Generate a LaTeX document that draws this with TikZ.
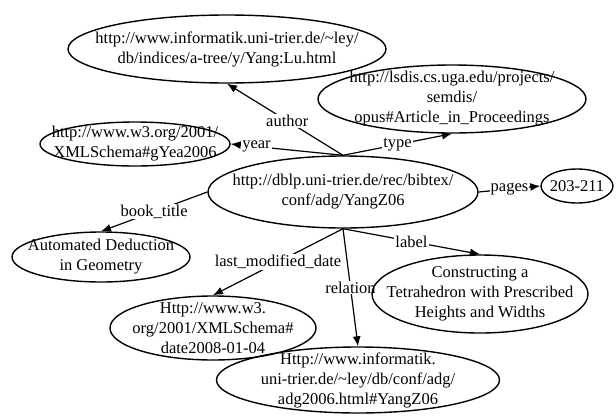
\documentclass[tikz,border=0pt]{standalone}
\usepackage{fontspec}
\setmainfont{Liberation Serif}
\usetikzlibrary{shapes.geometric,arrows.meta,positioning,backgrounds}

\begin{document}
\begin{tikzpicture}[
  x=1pt,y=1pt,
  uri/.style={draw,ellipse,inner sep=0pt,line width=1.4pt},
  txt/.style={font=\fontsize{16.5}{20}\selectfont,align=center,inner sep=0pt},
  rel/.style={-{Latex[length=10pt,width=8pt]},line width=1.2pt},
  lbl/.style={fill=white,inner sep=1pt,font=\fontsize{16.5}{20}\selectfont},
  on grid
]
\useasboundingbox (0,0) rectangle (616,-416);
\node[uri,minimum width=270pt,minimum height=72pt,
      label={[txt]center:{http://dblp.uni-trier.de/rec/bibtex/\\conf/adg/YangZ06}}] (main) at (343,-192) {};
\node[uri,minimum width=318pt,minimum height=68pt,above left=143pt and 116pt of main,
      label={[txt]center:{http://www.informatik.uni-trier.de/\textasciitilde ley/\\db/indices/a-tree/y/Yang:Lu.html}}] (author) {};
\node[uri,minimum width=268pt,minimum height=68pt,above right=93pt and 109pt of main,
      label={[txt]center:{http://lsdis.cs.uga.edu/projects/\\semdis/\\opus\#Article\_in\_Proceedings}}] (type) {};
\node[uri,minimum width=190pt,minimum height=44pt,above left=48pt and 208pt of main,
      label={[txt]center:{http://www.w3.org/2001/\\XMLSchema\#gYea2006}}] (year) {};
\node[uri,minimum width=72pt,minimum height=34pt,above right=6pt and 234pt of main,
      label={[txt]center:{203-211}}] (pages) {};
\node[uri,minimum width=178pt,minimum height=50pt,below left=65pt and 242pt of main,
      label={[txt]center:{Automated Deduction\\in Geometry}}] (book) {};
\node[uri,minimum width=206pt,minimum height=64pt,below left=136pt and 130pt of main,
      label={[txt]center:{Http://www.w3.\\org/2001/XMLSchema\#\\date2008-01-04}}] (date) {};
\node[uri,minimum width=283pt,minimum height=66pt,below right=188pt and 15pt of main,
      label={[txt]center:{Http://www.informatik.\\uni-trier.de/\textasciitilde ley/db/conf/adg/\\adg2006.html\#YangZ06}}] (relation) {};
\node[uri,minimum width=216pt,minimum height=78pt,below right=102pt and 137pt of main,
      label={[txt]center:{Constructing a\\Tetrahedron with Prescribed\\Heights and Widths}}] (tetra) {};

\begin{scope}[on background layer]
\draw[rel] (main.north) -- node[lbl,pos=.48]{author} (author.south);
\draw[rel] (main.north) -- node[lbl,pos=.77]{year} (year.east);
\draw[rel] (main.north) -- node[lbl]{type} (type.south);
\draw[rel] (main.east) -- node[lbl]{pages} (pages.west);
\draw[rel] (main.west) -- node[lbl]{book\_title} (book.north);
\draw[rel] (main.south) -- node[lbl]{last\_modified\_date} (date.north);
\draw[rel] (main.south) -- node[lbl]{relation} (relation.north);
\draw[rel] (main.south) -- node[lbl]{label} (tetra.north);
\end{scope}
\end{tikzpicture}
\end{document}
